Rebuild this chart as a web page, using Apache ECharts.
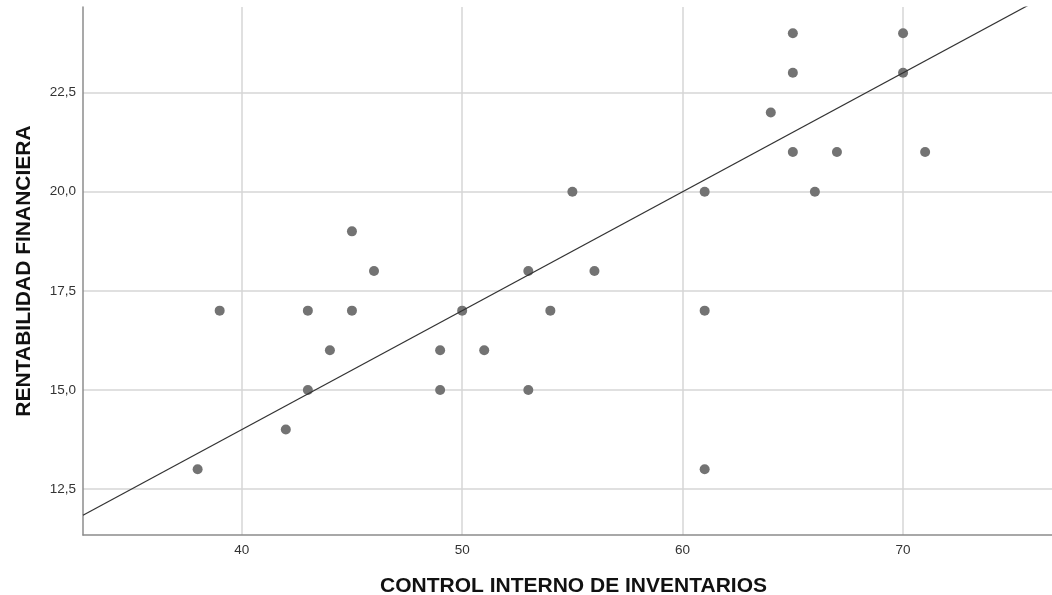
<!DOCTYPE html>
<html>
<head>
<meta charset="utf-8">
<script src="https://cdn.jsdelivr.net/npm/echarts@6/dist/echarts.min.js"></script>
<style>
  html, body { margin: 0; padding: 0; background: #fff; }
  #chart { width: 1052px; height: 595px; }
</style>
</head>
<body>
<div id="chart"></div>
<script>
const controlInterno = [38, 39, 42, 43, 43, 44, 45, 45, 46, 49, 49, 50, 51, 53, 53, 54, 55, 56, 61, 61, 61, 64, 65, 65, 65, 66, 67, 70, 70, 71];
const rentabilidad = [13, 17, 14, 17, 15, 16, 19, 17, 18, 16, 15, 17, 16, 18, 15, 17, 20, 18, 20, 17, 13, 22, 24, 23, 21, 20, 21, 24, 23, 21];
const xTicks = [40, 50, 60, 70];
const yTicks = [12.5, 15, 17.5, 20, 22.5];
const xRange = [32.8, 77.3];
const yRange = [11.34, 24.66];
// fitted line: intercept, slope
const fitLine = [2, 0.3];

const points = controlInterno.map((x, i) => [x, rentabilidad[i]]);
const linePoints = xRange.map(x => [x, fitLine[0] + fitLine[1] * x]);

let myChart = echarts.init(document.getElementById('chart'));
myChart.setOption({
  animation: false,
  textStyle: { fontFamily: 'Liberation Sans, Arial, sans-serif' },
  grid: {
    top: 7,
    left: 83,
    right: -12,
    bottom: 60,
    outerBoundsMode: 'none'
  },
  xAxis: {
    type: 'value',
    min: xRange[0],
    max: xRange[1],
    name: 'CONTROL INTERNO DE INVENTARIOS',
    nameLocation: 'middle',
    nameGap: 41,
    nameTextStyle: { fontSize: 21, fontWeight: 'bold', color: '#111' },
    axisLine: { show: true, lineStyle: { color: '#8c8c8c', width: 1.5 } },
    axisTick: { show: false, customValues: xTicks },
    axisLabel: {
      customValues: xTicks,
      margin: 8,
      fontSize: 13.5,
      color: '#333'
    },
    splitLine: { show: true, lineStyle: { color: '#d6d6d6', width: 1.5 } }
  },
  yAxis: {
    type: 'value',
    min: yRange[0],
    max: yRange[1],
    name: 'RENTABILIDAD FINANCIERA',
    nameLocation: 'middle',
    nameGap: 48,
    nameTextStyle: { fontSize: 21, fontWeight: 'bold', color: '#111' },
    axisLine: { show: true, lineStyle: { color: '#8c8c8c', width: 1.5 } },
    axisTick: { show: false, customValues: yTicks },
    axisLabel: {
      customValues: yTicks,
      margin: 7,
      fontSize: 13.5,
      color: '#333',
      formatter: v => v.toFixed(1).replace('.', ',')
    },
    splitLine: { show: true, lineStyle: { color: '#d6d6d6', width: 1.5 } }
  },
  series: [
    {
      type: 'scatter',
      data: points,
      symbolSize: 10,
      itemStyle: { color: '#737373', opacity: 1 },
      z: 3
    },
    {
      type: 'line',
      data: linePoints,
      symbol: 'none',
      clip: true,
      lineStyle: { color: '#333', width: 1.2 },
      z: 4
    }
  ]
});
window.addEventListener('resize', myChart.resize);
</script>
</body>
</html>
